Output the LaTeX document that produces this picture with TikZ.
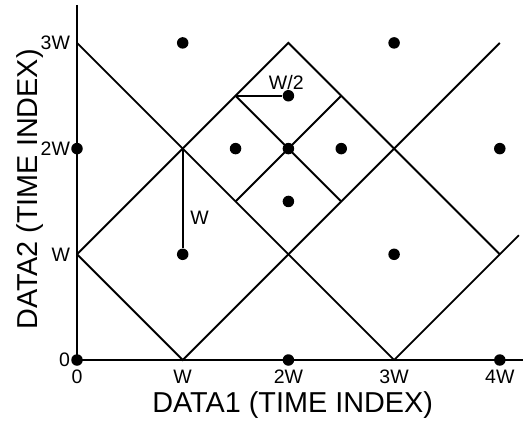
\documentclass[tikz,border=0pt]{standalone}
\usepackage{fontspec}
\setmainfont{Liberation Sans}
\usepackage{tikz}
\usetikzlibrary{positioning,calc}
\tikzset{
  axisline/.style={line width=2pt},
  gridline/.style={line width=1.9pt},
  dot/.style={circle, fill=black, inner sep=0pt, minimum size=11.5pt},
  ticklabel/.style={inner sep=0pt, font=\fontsize{19.5}{21}\selectfont},
  marklabel/.style={inner sep=0pt, font=\fontsize{19.5}{21}\selectfont},
  axislabel/.style={inner sep=0pt, font=\fontsize{28.8}{31}\selectfont}
}

\begin{document}
\begin{tikzpicture}[x=105.7pt, y=105.7pt]
  \useasboundingbox (-0.7285,-0.615) rectangle (4.2195,3.406);
  % axes
  \coordinate (o) at (0,0);
  \coordinate (xend) at (4.22,0);
  \coordinate (yend) at (0,3.36);
  \draw[axisline] (yend) -- (o) -- (xend);
  % corners of the diamonds
  \coordinate (l1) at (0,1);
  \coordinate (l3) at (0,3);
  \coordinate (b1) at (1,0);
  \coordinate (b3) at (3,0);
  \coordinate (top) at (2,3);
  \coordinate (r1) at (4,1);
  \coordinate (r3) at (4,3);
  \coordinate (rend) at (4.18,1.18);
  \coordinate (mid) at (1,2);
  \coordinate (qul) at (1.5,2.5);
  \coordinate (qur) at (2.5,2.5);
  \coordinate (qll) at (1.5,1.5);
  \coordinate (qlr) at (2.5,1.5);
  \draw[gridline] (l3) -- (b3);
  \draw[gridline] (l1) -- (top) -- (r1);
  \draw[gridline] (l1) -- (b1) -- (r3);
  \draw[gridline] (b3) -- (rend);
  \draw[gridline] (qul) -- (qlr);
  \draw[gridline] (qll) -- (qur);
  % sample points
  \foreach \px/\py/\nm in {1/3/p13, 3/3/p33, 2/2.5/p225, 0/2/p02, 1.5/2/p152,
      2/2/p22, 2.5/2/p252, 4/2/p42, 2/1.5/p215, 1/1/p11, 3/1/p31,
      0/0/p00, 2/0/p20, 4/0/p40}
    \node[dot] (\nm) at (\px,\py) {};
  % width marks
  \draw[gridline] (qul) -- (p225);
  \draw[gridline] (mid) -- (p11);
  \node[marklabel, anchor=south] (halfw) at (1.98,2.555) {W/2};
  \node[marklabel, anchor=west] (fullw) at (1.07,1.343) {W};
  % tick labels
  \foreach \k/\t in {0/0, 1/W, 2/2W, 3/3W, 4/4W}
    \node[ticklabel, anchor=north] (xt\k) at (\k,-0.095) {\t};
  \foreach \k/\t in {0/0, 1/W, 2/2W, 3/3W}
    \node[ticklabel, anchor=east] (yt\k) at (-0.065,\k) {\t};
  % axis titles
  \node[axislabel, anchor=base] (xlab) at (2.04,-0.501) {DATA1 (TIME INDEX)};
  \node[axislabel, rotate=90, anchor=base] (ylab) at (-0.378,1.613) {DATA2 (TIME INDEX)};
\end{tikzpicture}
\end{document}
